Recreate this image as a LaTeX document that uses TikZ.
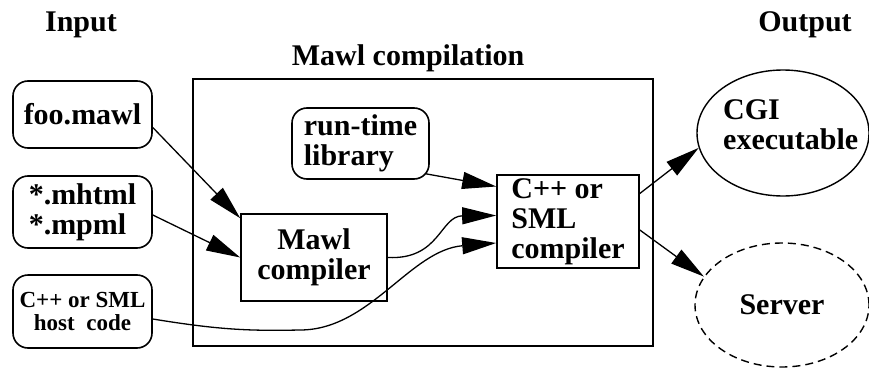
\documentclass[tikz,border=0pt]{standalone}
\usepackage{fontspec}
\setmainfont{Liberation Serif}
\usetikzlibrary{arrows.meta,shapes.geometric}
\begin{document}
\begin{tikzpicture}[x=1pt,y=-1pt,
  every node/.style={font=\bfseries\fontsize{30}{30}\selectfont, inner sep=0pt},
  rbox/.style={draw, line width=1.6pt, rounded corners=15pt},
  sbox/.style={draw, line width=1.6pt},
  oval/.style={draw, ellipse, line width=1.4pt},
  conn/.style={line width=1.3pt, -{Triangle[length=34pt,width=17pt]}}]
\useasboundingbox (0,0) rectangle (869,369);
% titles
\node[anchor=base] (tin) at (81,31.7) {Input};
\node[anchor=base west] (tmawl) at (291.7,65.7) {Mawl compilation};
\node[anchor=base] (tout) at (805,31.7) {Output};
% inputs
\node[rbox, minimum width=139pt, minimum height=67pt] (foo) at (82.5,114.5) {foo.mawl};
\node[rbox, minimum width=139pt, minimum height=72pt, align=left] (mh) at (82.5,212) {*.mhtml\\*.mpml};
\node[rbox, minimum width=139pt, minimum height=73pt, align=center, font=\bfseries\fontsize{23}{23}\selectfont] (host) at (82.5,311.5) {C++ or SML\\host\ \ code};
% compilation box
\node[sbox, line width=2pt, minimum width=460pt, minimum height=267pt] (mawl) at (423,212.5) {};
\node[rbox, minimum width=137pt, minimum height=71pt, align=left] (rt) at (360.5,143.5) {run-time\\library};
\node[sbox, minimum width=146pt, minimum height=87pt, align=center] (mc) at (314,257.5) {Mawl\\compiler};
\node[sbox, minimum width=142pt, minimum height=93pt, align=left] (cc) at (568,221.5) {C++ or\\SML\\compiler};
% outputs
\node[oval, minimum width=172pt, minimum height=126pt] (cgi) at (783,133) {};
\node[anchor=west, align=left] (cgitext) at (723,125) {CGI\\executable};
\node[oval, dash pattern=on 8pt off 5pt, minimum width=174pt, minimum height=124pt] (srv) at (782,305) {Server};
% connectors
\draw[conn] ([yshift=-13pt]foo.east) -- ([yshift=-5pt]mc.north west);
\draw[conn] ([yshift=-3pt]mh.east) -- (mc.west);
\draw[conn] ([yshift=-7.5pt]host.east) .. controls (220,330) and (250,331) .. (300,330)
   .. controls (370,330) and (410,250) .. ([yshift=-21.5pt]cc.west);
\draw[conn] ([xshift=-4pt,yshift=6pt]rt.south east) -- ([yshift=35pt]cc.west);
\draw[conn] (mc.east) .. controls (440,260) and (440,216) .. ([yshift=6pt]cc.west);
\draw[conn] ([yshift=28pt]cc.east) -- (cgi.190);
\draw[conn] ([yshift=-8.5pt]cc.east) -- (srv.160);
\end{tikzpicture}
\end{document}
